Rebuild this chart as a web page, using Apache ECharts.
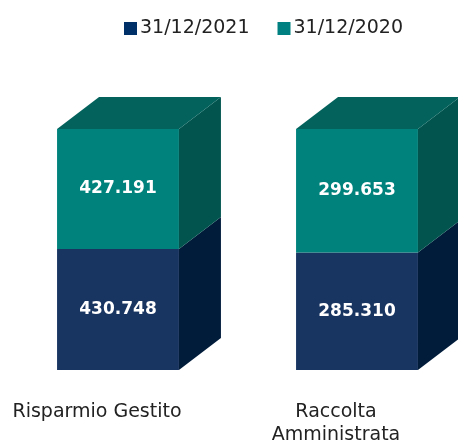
<!DOCTYPE html>
<html>
<head>
<meta charset="utf-8">
<script src="https://cdn.jsdelivr.net/npm/echarts@6/dist/echarts.min.js"></script>
<style>
  html, body { margin: 0; padding: 0; background: #ffffff; }
  #chart { width: 458px; height: 443px; }
</style>
</head>
<body>
<div id="chart"></div>
<script>
// dati
const categories = ['Risparmio Gestito', 'Raccolta\nAmministrata'];
const seriesNames = ['31/12/2021', '31/12/2020'];
const values2021 = [430748, 285310];
const values2020 = [427191, 299653];

// colori: fronte, lato, sopra
const faceColors = [
    { front: '#183461', side: '#011c3b', top: '#132b52', legend: '#003068' },
    { front: '#00827c', side: '#02554f', top: '#03625c', legend: '#008080' }
];

const depthX = 42;
const depthY = -32;

function fmt(v) {
    return String(v).replace(/\B(?=(\d{3})+(?!\d))/g, '.');
}

// barre impilate al 100%
const totals = categories.map((c, i) => values2021[i] + values2020[i]);
const stackData = [
    values2021.map((v, i) => [i, 0, v / totals[i], v]),
    values2020.map((v, i) => [i, values2021[i] / totals[i], 1, v])
];

function makeRender(sIdx, isTop) {
    const col = faceColors[sIdx];
    return function(params, api) {
        const idx = api.value(0);
        const p0 = api.coord([idx, api.value(1)]);
        const p1 = api.coord([idx, api.value(2)]);
        const w = api.size([1, 0])[0] * 0.51;
        const x0 = p0[0] - w / 2;
        const x1 = x0 + w;
        const yb = p0[1];
        const yt = p1[1];
        const children = [{
            type: 'rect',
            shape: { x: x0, y: yt, width: w, height: yb - yt },
            style: { fill: col.front }
        }, {
            type: 'polygon',
            shape: { points: [[x1, yt], [x1 + depthX, yt + depthY], [x1 + depthX, yb + depthY], [x1, yb]] },
            style: { fill: col.side }
        }];
        if (isTop) {
            children.push({
                type: 'polygon',
                shape: { points: [[x0, yt], [x0 + depthX, yt + depthY], [x1 + depthX, yt + depthY], [x1, yt]] },
                style: { fill: col.top }
            });
        }
        children.push({
            type: 'text',
            style: {
                x: x0 + w / 2,
                y: (yt + yb) / 2,
                text: fmt(api.value(3)),
                fill: '#ffffff',
                font: 'bold 17px "DejaVu Sans"',
                align: 'center',
                verticalAlign: 'middle'
            }
        });
        return { type: 'group', children: children };
    };
}

var myChart = echarts.init(document.getElementById('chart'));
option = {
    animation: false,
    color: [faceColors[0].legend, faceColors[1].legend],
    legend: {
        data: seriesNames,
        left: 119,
        top: 14,
        icon: 'rect',
        itemWidth: 13,
        itemHeight: 13,
        itemGap: 28,
        textStyle: {
            fontFamily: 'DejaVu Sans',
            fontSize: 19,
            color: '#222222',
            padding: [0, 0, 0, -2]
        }
    },
    grid: {
        left: -1.5,
        right: -18.5,
        top: 129,
        bottom: 73,
        outerBoundsMode: 'none',
        containLabel: false
    },
    xAxis: {
        type: 'category',
        data: categories,
        axisLine: { show: false },
        axisTick: { show: false },
        axisLabel: {
            margin: 31,
            fontFamily: 'DejaVu Sans',
            fontSize: 19,
            lineHeight: 23,
            color: '#222222',
            verticalAlign: 'top',
            padding: [0, 42, 0, 0]
        }
    },
    yAxis: {
        type: 'value',
        min: 0,
        max: 1,
        show: false
    },
    series: [{
        name: seriesNames[0],
        type: 'custom',
        renderItem: makeRender(0, false),
        encode: { x: 0, y: [1, 2] },
        data: stackData[0]
    }, {
        name: seriesNames[1],
        type: 'custom',
        renderItem: makeRender(1, true),
        encode: { x: 0, y: [1, 2] },
        data: stackData[1]
    }]
};
myChart.setOption(option);
</script>
</body>
</html>
